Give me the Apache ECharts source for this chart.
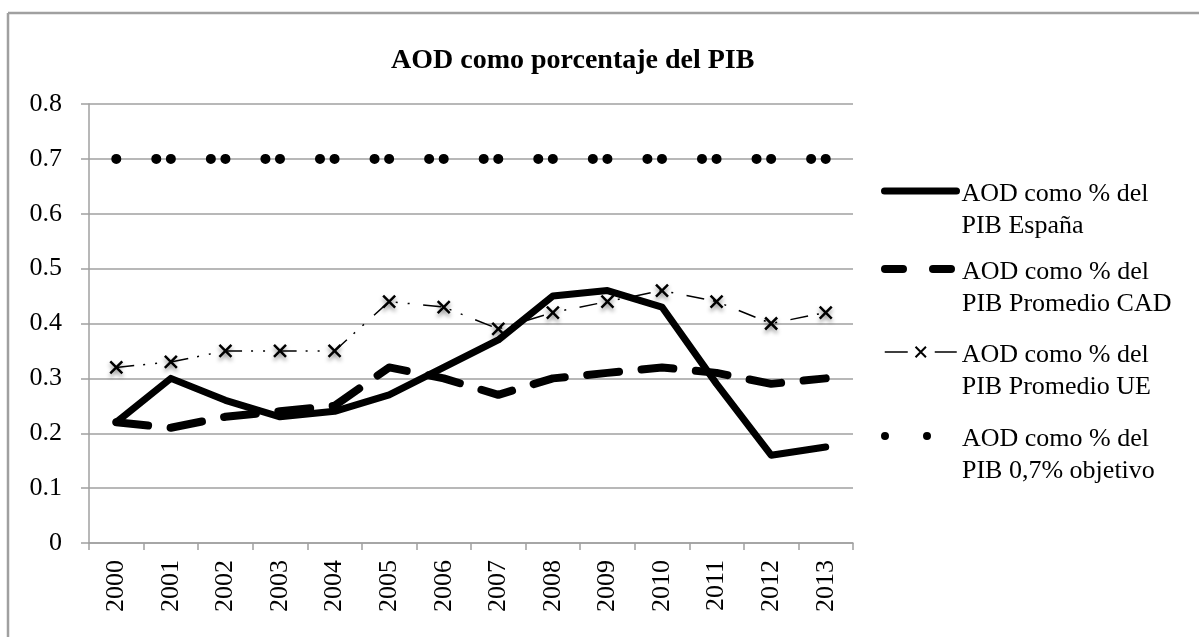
<!DOCTYPE html>
<html>
<head>
<meta charset="utf-8">
<script src="https://cdn.jsdelivr.net/npm/echarts@6/dist/echarts.min.js"></script>
<style>
    html, body { margin: 0; padding: 0; background: #fff; }
    #main { width: 1199px; height: 637px; }
</style>
</head>
<body>
<div id="main"></div>
<script>
// datos
var years = ['2000','2001','2002','2003','2004','2005','2006','2007','2008','2009','2010','2011','2012','2013'];
var seriesNames = [
    'AOD como % del PIB España',
    'AOD como % del PIB Promedio CAD',
    'AOD como % del PIB Promedio UE',
    'AOD como % del PIB 0,7% objetivo'
];
var espana   = [0.22, 0.30, 0.26, 0.23, 0.24, 0.27, 0.32, 0.37, 0.45, 0.46, 0.43, 0.29, 0.16, 0.175];
var cad      = [0.22, 0.21, 0.23, 0.24, 0.25, 0.32, 0.30, 0.27, 0.30, 0.31, 0.32, 0.31, 0.29, 0.30];
var ue       = [0.32, 0.33, 0.35, 0.35, 0.35, 0.44, 0.43, 0.39, 0.42, 0.44, 0.46, 0.44, 0.40, 0.42];
var objetivo = [0.70, 0.70, 0.70, 0.70, 0.70, 0.70, 0.70, 0.70, 0.70, 0.70, 0.70, 0.70, 0.70, 0.70];

var serif = "'Liberation Serif', 'Times New Roman', serif";
var gris = '#a0a0a0';
var xMark = 'path://M0,0L10,10M10,0L0,10';

var chart = echarts.init(document.getElementById('main'), null, {renderer: 'canvas'});

// una leyenda por serie, para colocar cada una a mano
// (la primera línea vacía baja el texto para que empiece a la altura del icono)
function legendFor(i, left, top, style) {
    return {
        data: [Object.assign({name: seriesNames[i]}, style)],
        left: left,
        top: top,
        padding: 0,
        itemWidth: 72,
        itemHeight: 13,
        selectedMode: false,
        formatter: function (name) {
            var parts = name.split(' PIB');
            return '{s| }\n{a|' + parts[0] + '}\n{a|PIB' + parts[1] + '}';
        },
        textStyle: {
            fontFamily: serif,
            fontSize: 26,
            color: '#000',
            rich: {
                s: {fontSize: 10, lineHeight: 38},
                a: {fontFamily: serif, fontSize: 26, lineHeight: 32, color: '#000'}
            }
        }
    };
}

var option = {
    backgroundColor: '#fff',
    animation: false,
    title: {
        text: 'AOD como porcentaje del PIB',
        left: 386,
        top: 42,
        textStyle: {
            fontFamily: serif,
            fontSize: 28,
            fontWeight: 'bold',
            color: '#000'
        }
    },
    legend: [
        legendFor(0, 881, 154, {
            lineStyle: {width: 7, type: 'solid', cap: 'round', color: '#000'},
            itemStyle: {opacity: 0}
        }),
        legendFor(1, 881, 232, {
            lineStyle: {width: 8, type: [18, 30], cap: 'round', color: '#000'},
            itemStyle: {opacity: 0}
        }),
        legendFor(2, 884, 315, {
            lineStyle: {width: 1.5, type: [23, 27], color: '#000'},
            itemStyle: {color: 'none', borderColor: '#000', borderWidth: 2}
        }),
        legendFor(3, 881, 399, {
            lineStyle: {width: 8, type: [0, 42], cap: 'round', color: '#000'},
            itemStyle: {opacity: 0}
        })
    ],
    graphic: [
        {type: 'line', shape: {x1: 8, y1: 13, x2: 1199, y2: 13}, style: {stroke: gris, lineWidth: 2.5}},
        {type: 'line', shape: {x1: 8, y1: 13, x2: 8, y2: 637}, style: {stroke: gris, lineWidth: 2.5}}
    ],
    grid: {
        left: 89,
        right: 346,
        top: 104,
        bottom: 94,
        containLabel: false
    },
    xAxis: {
        type: 'category',
        data: years,
        boundaryGap: true,
        axisLine: {lineStyle: {color: gris, width: 1.5}},
        axisTick: {show: true, length: 7, lineStyle: {color: gris, width: 1.5}},
        axisLabel: {
            rotate: 90,
            margin: 17,
            interval: 0,
            fontFamily: serif,
            fontSize: 26,
            color: '#000'
        }
    },
    yAxis: {
        type: 'value',
        min: 0,
        max: 0.8,
        interval: 0.1,
        axisLine: {show: true, lineStyle: {color: gris, width: 1.5}},
        axisTick: {show: true, length: 8, lineStyle: {color: gris, width: 1.5}},
        splitLine: {lineStyle: {color: gris, width: 1.5}},
        axisLabel: {
            margin: 27,
            fontFamily: serif,
            fontSize: 26,
            color: '#000',
            formatter: function (v) {
                return v === 0 ? '0' : v.toFixed(1);
            }
        }
    },
    series: [
        {
            name: seriesNames[0],
            type: 'line',
            data: espana,
            symbol: 'none',
            lineStyle: {color: '#000', width: 7, join: 'round', cap: 'round'},
            itemStyle: {color: '#000'}
        },
        {
            name: seriesNames[1],
            type: 'line',
            data: cad,
            symbol: 'none',
            lineStyle: {color: '#000', width: 8, type: [32, 22.57], cap: 'round', join: 'round'},
            itemStyle: {color: '#000'}
        },
        {
            name: seriesNames[2],
            type: 'line',
            data: ue,
            symbol: xMark,
            symbolSize: 12,
            showAllSymbol: true,
            lineStyle: {color: '#000', width: 1.5, type: [18, 9, 2, 10, 2, 13.57]},
            itemStyle: {
                color: 'none',
                borderColor: '#000',
                borderWidth: 2.5,
                shadowColor: 'rgba(0,0,0,0.45)',
                shadowBlur: 4,
                shadowOffsetY: 3
            }
        },
        {
            name: seriesNames[3],
            type: 'line',
            data: objetivo,
            symbol: 'none',
            lineStyle: {color: '#000', width: 10, type: [0, 40, 0, 14.57], cap: 'round'},
            itemStyle: {color: '#000'}
        }
    ]
};

chart.setOption(option);
</script>
</body>
</html>
